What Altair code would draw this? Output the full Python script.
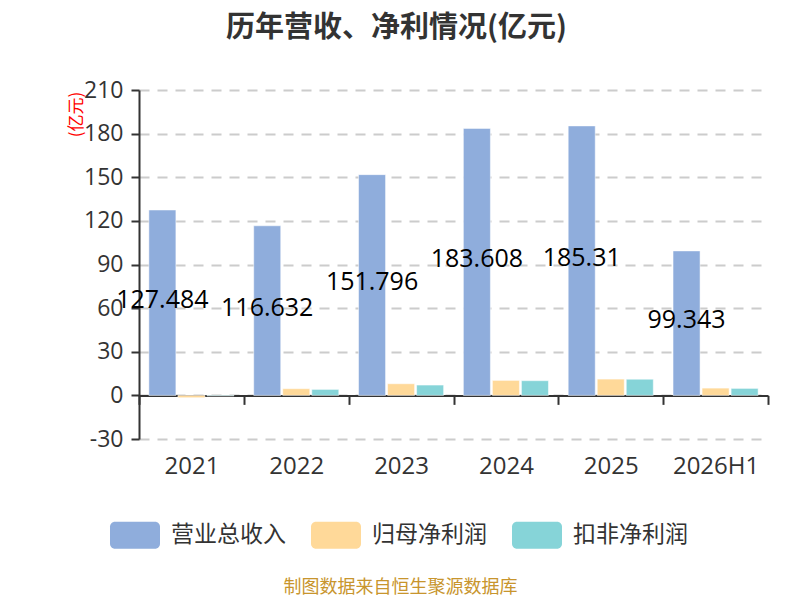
import altair as alt
import pandas as pd

years = ["2021", "2022", "2023", "2024", "2025", "2026H1"]
series = ["营业总收入", "归母净利润", "扣非净利润"]
revenue = [127.484, 116.632, 151.796, 183.608, 185.31, 99.343]
net_profit = [-1.6, 4.6, 8.0, 10.3, 11.2, 5.0]
deducted_profit = [-0.4, 4.1, 7.1, 10.1, 11.1, 4.8]
colors = ["#8FADDC", "#FFD999", "#86D4D8"]
y_ticks = [-30, 0, 30, 60, 90, 120, 150, 180, 210]

rows = []
for s, vals in zip(series, [revenue, net_profit, deducted_profit]):
    for y, v in zip(years, vals):
        rows.append({"year": y, "series": s, "value": v})
df = pd.DataFrame(rows)

W, H = 629, 349
FONT = "Open Sans, Noto Sans CJK SC, sans-serif"
CJK = "Noto Sans CJK SC, sans-serif"

legend_path = ("M-0.8,-0.54 H0.8 A0.2,0.2 0 0 1 1,-0.34 V0.34 A0.2,0.2 0 0 1 0.8,0.54 "
               "H-0.8 A0.2,0.2 0 0 1 -1,0.34 V-0.34 A0.2,0.2 0 0 1 -0.8,-0.54 Z")

x_enc = alt.X(
    "year:N", sort=years,
    scale=alt.Scale(paddingInner=0, paddingOuter=0),
    axis=alt.Axis(
        title="制图数据来自恒生聚源数据库",
        titleColor="#C8952D", titleFontSize=18, titleFontWeight="normal", titleFont=CJK,
        titleX=261, titleY=192, titleAlign="center", titleBaseline="middle",
        offset=-H / 8, labelPadding=50, labelFontSize=24, labelColor="#333333", labelFont=FONT,
        labelAngle=0, tickBand="extent", tickSize=9, tickWidth=2, tickColor="#333333",
        domainColor="#333333", domainWidth=2, grid=False,
    ),
)
xoff_enc = alt.XOffset("series:N", sort=series,
                       scale=alt.Scale(domain=series, paddingInner=0.069, paddingOuter=0.34))

bars = alt.Chart(df).mark_bar(stroke="white", strokeWidth=1, strokeOpacity=0.5).encode(
    x=x_enc,
    xOffset=xoff_enc,
    y=alt.Y(
        "value:Q",
        scale=alt.Scale(domain=[-30, 210], nice=False, zero=False),
        axis=alt.Axis(
            values=y_ticks, title="(亿元)", titleColor="red", titleFontSize=17,
            titleFontWeight="normal", titleFont=CJK, titleX=-63, titleY=24, titleAngle=270,
            titleAlign="center", titleBaseline="middle",
            labelExpr="'' + datum.value",
            labelFontSize=23, labelColor="#333333", labelFont=FONT, labelPadding=8,
            tickSize=8, tickWidth=2, tickColor="#333333", domainColor="#333333", domainWidth=2,
            grid=True, gridColor="#CCCCCC", gridDash=[10, 8], gridWidth=2,
        ),
    ),
    color=alt.Color(
        "series:N", sort=series,
        scale=alt.Scale(domain=series, range=colors),
        legend=alt.Legend(
            title=None, orient="none", legendX=-29, legendY=420, direction="horizontal",
            symbolType=legend_path, symbolSize=2500, symbolStrokeWidth=0, symbolOpacity=1,
            labelFontSize=23, labelFont=CJK, labelColor="#333333", labelOffset=11,
            columnPadding=25, padding=0,
        ),
    ),
)

labels = alt.Chart(df).transform_filter(
    alt.datum.series == series[0]
).transform_calculate(
    mid="datum.value / 2"
).mark_text(fontSize=25, color="black", font=FONT, baseline="middle", dy=-3).encode(
    x=alt.X("year:N", sort=years),
    xOffset=xoff_enc,
    y=alt.Y("mid:Q"),
    text=alt.Text("value:Q"),
)

chart = alt.layer(bars, labels).properties(
    width=W, height=H,
    title=alt.TitleParams(
        "历年营收、净利情况(亿元)", fontSize=29, fontWeight="bold", color="#333333",
        font=CJK, anchor="middle", dx=-57, offset=36,
    ),
    autosize=alt.AutoSizeParams(type="none"),
    padding={"left": 131, "top": 82, "right": 8, "bottom": 159},
).configure_view(stroke=None)

chart.save("out.html", embed_options={"renderer": "svg", "actions": False})
